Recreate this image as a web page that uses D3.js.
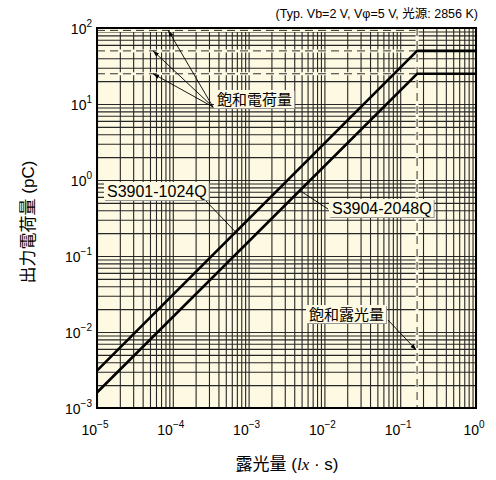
<!DOCTYPE html>
<html>
<head>
<meta charset="utf-8">
<script src="https://cdn.jsdelivr.net/npm/d3@7"></script>
<style>
  body { margin: 0; background: #fff; }
  text { font-family: "Liberation Sans", Arial, "Noto Sans CJK JP", sans-serif; }
</style>
</head>
<body>
<svg id="chart" width="496" height="480"></svg>
<script>
// exposure (lx·s) vs output charge (pC)
const exposure = [1e-5, 0.167, 1];
const chargeS3901 = [3.1e-3, 50, 50];
const chargeS3904 = [1.6e-3, 25, 25];

const satCharges = [93, 50, 25];
const satExposure = 0.167;

const xTickExp = [-5, -4, -3, -2, -1, 0];
const yTickExp = [-3, -2, -1, 0, 1, 2];

// annotation anchors in data units [exposure, charge]
const satChargeTips = [[8.7e-5, 93], [5.5e-5, 50], [5.5e-5, 25]];
const s3901Tip = [6.8e-4, 0.205];
const s3904Tip = [4.8e-3, 0.72];
const satExpTip = [0.163, 5.8e-3];

const bg = "#fdf9e2";
const svg = d3.select("#chart");
const pLeft = 97, pRight = 476, pTop = 28, pBottom = 408;

var x = d3.scaleLog().domain([1e-5, 1]).range([pLeft, pRight]);
var y = d3.scaleLog().domain([1e-3, 100]).range([pBottom, pTop]);

svg.append("defs").append("marker")
    .attr("id", "arr")
    .attr("viewBox", "0 0 10 10")
    .attr("refX", 10).attr("refY", 5)
    .attr("markerWidth", 7).attr("markerHeight", 7)
    .attr("orient", "auto")
    .append("path")
    .attr("d", "M0,1.5 L10,5 L0,8.5 Z")
    .attr("fill", "#000");

// plot background
svg.append("rect")
    .attr("x", pLeft).attr("y", pTop)
    .attr("width", pRight - pLeft).attr("height", pBottom - pTop)
    .attr("fill", bg);

// log grid values (1..9 per decade)
var xGrid = [], yGrid = [];
xTickExp.forEach(e => { for (let k = 1; k < 10; k++) { let v = k * Math.pow(10, e); if (v <= 1) xGrid.push(v); } });
yTickExp.forEach(e => { for (let k = 1; k < 10; k++) { let v = k * Math.pow(10, e); if (v <= 100) yGrid.push(v); } });

svg.append("g")
    .attr("class", "grid")
    .attr("transform", `translate(0,${pBottom})`)
    .call(d3.axisBottom(x).tickValues(xGrid).tickSize(-(pBottom - pTop)).tickFormat(""))
    .call(g => g.select(".domain").remove())
    .call(g => g.selectAll("line").attr("stroke", "#262626").attr("stroke-width", 1.1));

svg.append("g")
    .attr("class", "grid")
    .attr("transform", `translate(${pLeft},0)`)
    .call(d3.axisLeft(y).tickValues(yGrid).tickSize(-(pRight - pLeft)).tickFormat(""))
    .call(g => g.select(".domain").remove())
    .call(g => g.selectAll("line").attr("stroke", "#262626").attr("stroke-width", 1.1));

// saturation guide lines (dashed)
svg.selectAll(".satq")
    .data(satCharges)
    .enter().append("line")
    .attr("x1", pLeft).attr("x2", x(satExposure))
    .attr("y1", d => y(d)).attr("y2", d => y(d))
    .attr("stroke", bg).attr("stroke-width", 3);
svg.selectAll(".satq2")
    .data(satCharges)
    .enter().append("line")
    .attr("x1", pLeft).attr("x2", x(satExposure))
    .attr("y1", d => y(d)).attr("y2", d => y(d))
    .attr("stroke", "#333").attr("stroke-width", 1)
    .attr("stroke-dasharray", "8,5");

svg.append("line")
    .attr("x1", x(satExposure)).attr("x2", x(satExposure))
    .attr("y1", pTop).attr("y2", pBottom)
    .attr("stroke", bg).attr("stroke-width", 3);
svg.append("line")
    .attr("x1", x(satExposure)).attr("x2", x(satExposure))
    .attr("y1", pTop).attr("y2", pBottom)
    .attr("stroke", "#333").attr("stroke-width", 1)
    .attr("stroke-dasharray", "8,5");

// characteristic lines
var line = d3.line().x(d => x(d[0])).y(d => y(d[1]));
[chargeS3901, chargeS3904].forEach(series => {
    svg.append("path")
        .datum(exposure.map((e, i) => [e, series[i]]))
        .attr("d", line)
        .attr("fill", "none")
        .attr("stroke", "#000")
        .attr("stroke-width", 2.6);
});

// frame
svg.append("rect")
    .attr("x", pLeft).attr("y", pTop)
    .attr("width", pRight - pLeft).attr("height", pBottom - pTop)
    .attr("fill", "none").attr("stroke", "#000").attr("stroke-width", 2);

// tick labels
function powLabel(sel, e) {
    sel.append("tspan").text("10");
    sel.append("tspan").attr("dy", -7).attr("font-size", 10)
        .text(e < 0 ? "\u2212" + Math.abs(e) : String(e));
}
xTickExp.forEach(e => {
    var t = svg.append("text")
        .attr("x", x(Math.pow(10, e)) - 2).attr("y", 435)
        .attr("text-anchor", "middle").attr("font-size", 14);
    powLabel(t, e);
});
yTickExp.forEach(e => {
    var t = svg.append("text")
        .attr("x", 92).attr("y", y(Math.pow(10, e)) + 6)
        .attr("text-anchor", "end").attr("font-size", 14);
    powLabel(t, e);
});

// axis titles
svg.append("text")
    .attr("transform", "translate(34,222) rotate(-90)")
    .attr("text-anchor", "middle").attr("font-size", 17)
    .text("出力電荷量 (pC)");

var xl = svg.append("text")
    .attr("x", 287).attr("y", 470)
    .attr("text-anchor", "middle").attr("font-size", 17);
xl.append("tspan").text("露光量 (");
xl.append("tspan").attr("font-family", "Liberation Serif, serif").attr("font-style", "italic").text("lx");
xl.append("tspan").text(" · s)");

svg.append("text")
    .attr("x", 478).attr("y", 18)
    .attr("text-anchor", "end").attr("font-size", 12.5)
    .style("font-family", "'Liberation Sans Narrow', 'Arial Narrow', 'Liberation Sans', 'Noto Sans CJK JP', sans-serif")
    .text("(Typ. Vb=2 V, V\u03C6=5 V, 光源: 2856 K)");

// annotation labels with boxes
function boxLabel(tx, ty, txt, fs) {
    var g = svg.append("g");
    var t = g.append("text")
        .attr("x", tx).attr("y", ty)
        .attr("font-size", fs)
        .text(txt);
    var b = t.node().getBBox();
    g.insert("rect", "text")
        .attr("x", b.x - 2).attr("y", b.y)
        .attr("width", b.width + 5).attr("height", b.height + 1)
        .attr("fill", "#999");
    g.insert("rect", "text")
        .attr("x", b.x - 3).attr("y", b.y - 1)
        .attr("width", b.width + 5).attr("height", b.height + 1)
        .attr("fill", bg);
    return b;
}

function leader(x1, y1, tip, arrow) {
    var l = svg.append("line")
        .attr("x1", x1).attr("y1", y1)
        .attr("x2", x(tip[0])).attr("y2", y(tip[1]))
        .attr("stroke", "#000").attr("stroke-width", 0.9);
    if (arrow) l.attr("marker-end", "url(#arr)");
}

satChargeTips.forEach(tp => leader(213, 107, tp, true));
leader(205, 200, s3901Tip, false);
leader(328, 209, s3904Tip, false);
leader(388, 320, satExpTip, true);

boxLabel(217, 105, "飽和電荷量", 15);
boxLabel(107, 197, "S3901-1024Q", 16);
boxLabel(332, 214, "S3904-2048Q", 16);
boxLabel(309, 320, "飽和露光量", 15);
</script>
</body>
</html>
